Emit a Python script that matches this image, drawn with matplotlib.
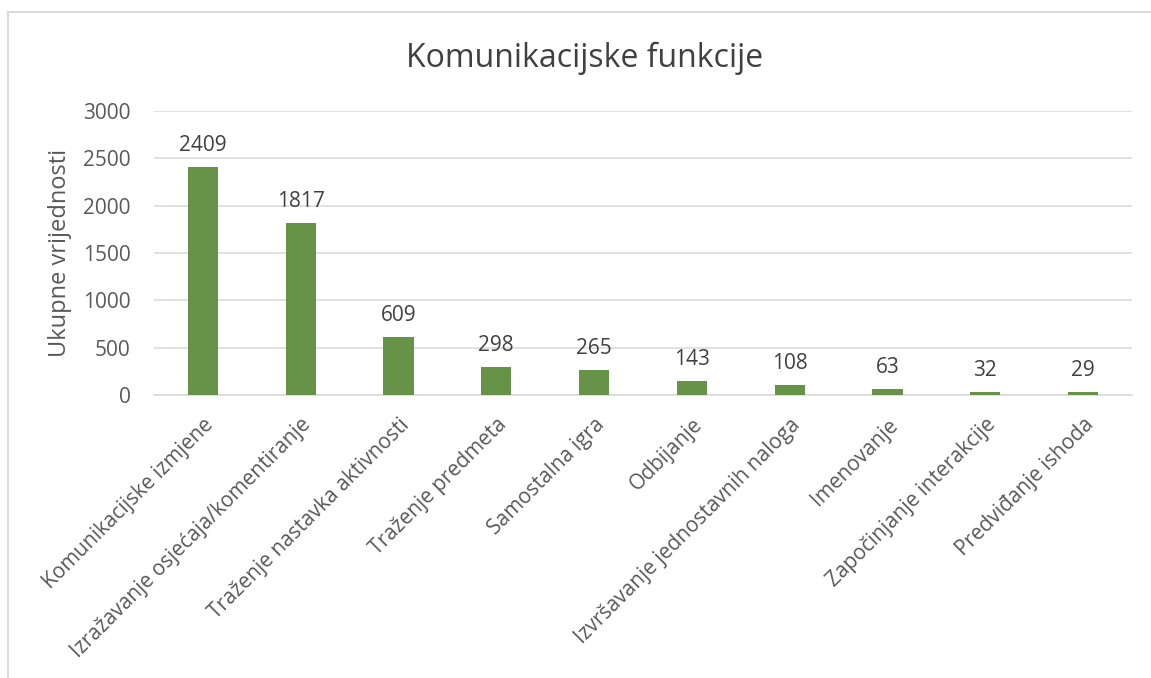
import matplotlib
matplotlib.use("Agg")
import matplotlib.pyplot as plt
from matplotlib.lines import Line2D

plt.rcParams["font.family"] = ["Open Sans", "DejaVu Sans"]

categories = [
    "Komunikacijske izmjene",
    "Izražavanje osjećaja/komentiranje",
    "Traženje nastavka aktivnosti",
    "Traženje predmeta",
    "Samostalna igra",
    "Odbijanje",
    "Izvršavanje jednostavnih naloga",
    "Imenovanje",
    "Započinjanje interakcije",
    "Predviđanje ishoda",
]
values = [2409, 1817, 609, 298, 265, 143, 108, 63, 32, 29]
yticks = [0, 500, 1000, 1500, 2000, 2500, 3000]

TXT = "#595959"
GRID = "#d9d9d9"
BAR = "#5f8d3f"

fig = plt.figure(figsize=(11.51, 6.78), dpi=100)
ax = fig.add_axes([0.1338, 0.4174, 0.8497, 0.4189])

x = range(len(categories))
ax.bar(x, values, width=0.31, color=BAR, alpha=0.95, zorder=3)

for i, v in enumerate(values):
    ax.annotate(str(v), (i, v), xytext=(0, 8), textcoords="offset points",
                ha="center", va="bottom", fontsize=15, color="#404040")

ax.set_xlim(-0.5, len(categories) - 0.5)
ax.set_ylim(0, 3000)
ax.set_yticks(yticks)
ax.set_yticklabels([str(t) for t in yticks], fontsize=15, color=TXT)
ax.set_xticks(list(x))
ax.set_xticklabels(categories, rotation=45, ha="right", rotation_mode="anchor",
                   fontsize=15, color=TXT)
ax.tick_params(length=0, axis="both")
ax.tick_params(axis="y", pad=17)
ax.tick_params(axis="x", pad=14)
ax.grid(axis="y", color=GRID, linewidth=1.1, zorder=0)
for s in ["top", "right", "left"]:
    ax.spines[s].set_visible(False)
ax.spines["bottom"].set_color(GRID)
ax.spines["bottom"].set_linewidth(1.1)

ax.set_ylabel("Ukupne vrijednosti", fontsize=17, color=TXT, labelpad=8)
fig.text(0.508, 0.914, "Komunikacijske funkcije", ha="center", va="center",
         fontsize=23, color="#404040")

# outer chart frame (cropped at right and bottom)
fx, fy = 8 / 1151, 1 - 12 / 678
fig.add_artist(Line2D([fx, 1], [fy, fy], color=GRID, lw=1.3, transform=fig.transFigure))
fig.add_artist(Line2D([fx, fx], [0, fy], color=GRID, lw=1.3, transform=fig.transFigure))

fig.savefig("out.png", dpi=100, facecolor="white")
